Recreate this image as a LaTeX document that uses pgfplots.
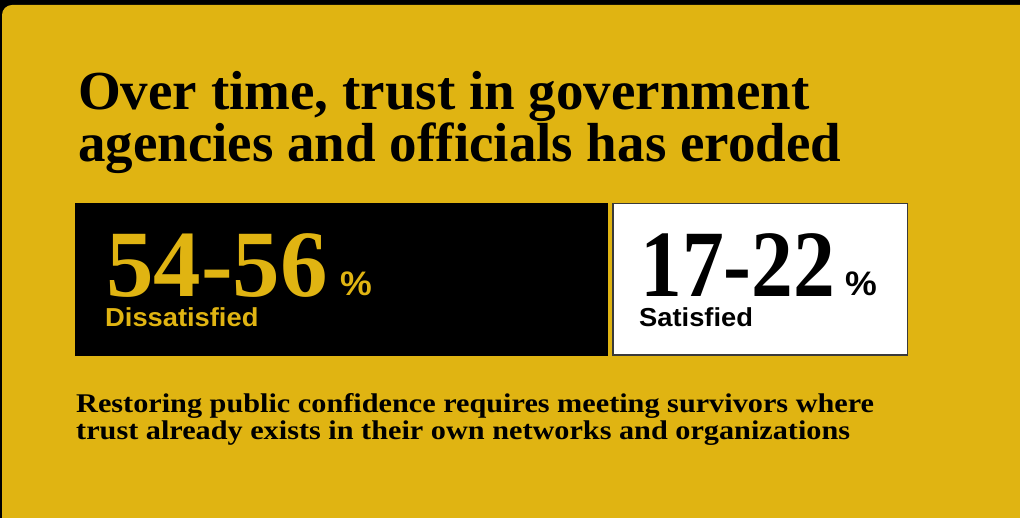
\documentclass[border=0pt]{standalone}
\usepackage{fontspec}
\setmainfont{Liberation Serif}
\newfontfamily\wideserif[FakeStretch=1.12]{Liberation Serif}
\newfontfamily\sansf[FakeStretch=1.05]{Liberation Sans}
\usepackage{pgfplots}
\pgfplotsset{compat=1.18}
\definecolor{mustard}{RGB}{224,180,18}
\definecolor{edge}{RGB}{58,58,58}

\begin{document}
\begin{tikzpicture}
\begin{axis}[
    width=1020pt, height=518pt, scale only axis,
    xmin=0, xmax=1020, ymin=0, ymax=518, y dir=reverse,
    hide axis, clip=false,
]
% frame
\fill[black] (axis cs:0,0) rectangle (axis cs:1020,518);
\begin{scope}
\clip (axis cs:0,0) rectangle (axis cs:1020,518);
\fill[mustard, rounded corners=10pt] (axis cs:2,5) rectangle (axis cs:1040,530);
\end{scope}

% the two boxes
\addplot[fill=black, draw=none, mark=none] coordinates {
    (75,203) (608,203) (608,356) (75,356)
} -- cycle;
\addplot[fill=white, draw=edge, line width=1.5pt, mark=none] coordinates {
    (612.75,203.75) (907.25,203.75) (907.25,355.25) (612.75,355.25)
} -- cycle;

% title
\node[anchor=base west, inner sep=0, font=\fontsize{55}{55}\selectfont\bfseries]
    at (axis cs:78,110) {Over time, trust in government};
\node[anchor=base west, inner sep=0, font=\fontsize{55}{55}\selectfont\bfseries]
    at (axis cs:78,162) {agencies and officials has eroded};

% dissatisfied
\node[anchor=base west, inner sep=0, text depth=0pt, text=mustard, font=\fontsize{95}{95}\selectfont\bfseries]
    at (axis cs:106,297) {54-56};
\node[anchor=base west, inner sep=0, text depth=0pt, text=mustard, font=\fontsize{34}{34}\sansf\bfseries]
    at (axis cs:340,296) {\%};
\node[anchor=base west, inner sep=0, text=mustard, font=\fontsize{26}{26}\sansf\bfseries]
    at (axis cs:105,327) {Dissatisfied};

% satisfied
\node[anchor=base west, inner sep=0, text depth=0pt, text=black, font=\fontsize{95}{95}\selectfont\bfseries]
    at (axis cs:640,297) {\scalebox{0.88}[1]{17-22}};
\node[anchor=base west, inner sep=0, text depth=0pt, text=black, font=\fontsize{34}{34}\sansf\bfseries]
    at (axis cs:845,296) {\%};
\node[anchor=base west, inner sep=0, text=black, font=\fontsize{26}{26}\sansf\bfseries]
    at (axis cs:639,327) {Satisfied};

% footnote
\node[anchor=base west, inner sep=0, font=\fontsize{27}{27}\wideserif\bfseries]
    at (axis cs:76,413) {Restoring public confidence requires meeting survivors where};
\node[anchor=base west, inner sep=0, font=\fontsize{27}{27}\wideserif\bfseries]
    at (axis cs:76,439) {trust already exists in their own networks and organizations};
\end{axis}
\end{tikzpicture}
\end{document}
